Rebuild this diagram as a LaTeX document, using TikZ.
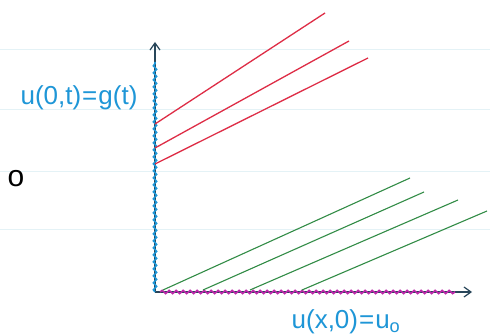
\documentclass[tikz,border=0pt]{standalone}
\usepackage{fontspec}
\setmainfont{Liberation Sans}
\usetikzlibrary{decorations.pathmorphing,arrows.meta}
\definecolor{penred}{RGB}{222,45,70}
\definecolor{pengreen}{RGB}{50,140,70}
\definecolor{penblue}{RGB}{30,150,215}
\definecolor{penmag}{RGB}{190,40,170}
\definecolor{rule}{RGB}{228,242,246}
\definecolor{axisc}{RGB}{40,70,90}
\tikzset{
  redchar/.style={penred, line width=1.3pt},
  greenchar/.style={pengreen, line width=1.1pt},
  axisline/.style={axisc, line width=1.2pt, -{Straight Barb[length=7pt,width=10pt]}},
  wavy/.style={line width=1.6pt, decorate, decoration={snake, amplitude=1.6pt, segment length=7pt}},
  lbl/.style={penblue, font=\fontsize{26}{26}\selectfont, inner sep=0pt},
  ruling/.style={rule, line width=1pt}
}
\begin{document}
\begin{tikzpicture}[x=1pt,y=-1pt]
\useasboundingbox (0,0) rectangle (490,336);
\fill[white] (0,0) rectangle (490,336);
% notebook rulings
\foreach \yy in {50,110,172,230} \draw[ruling] (0,\yy) -- (490,\yy);
% coordinates
\coordinate (O) at (155,292);
\coordinate (ytop) at (155,42);
\coordinate (xend) at (472,292);
% axes
\draw[axisline] (O) -- (ytop);
\draw[axisline] (O) -- (xend);
% wavy boundary data
\coordinate (bw1) at (155,292);
\coordinate (bw2) at (155,62);
\coordinate (mw1) at (160,292);
\coordinate (mw2) at (455,292);
\draw[wavy, penblue] (bw1) -- (bw2);
\draw[wavy, penmag] (mw1) -- (mw2);
% red characteristics
\coordinate (r1a) at (155,124); \coordinate (r1b) at (325,13);
\coordinate (r2a) at (155,148); \coordinate (r2b) at (349,41);
\coordinate (r3a) at (155,164); \coordinate (r3b) at (368,58);
\draw[redchar] (r1a) -- (r1b);
\draw[redchar] (r2a) -- (r2b);
\draw[redchar] (r3a) -- (r3b);
% green characteristics
\coordinate (g1a) at (163,290); \coordinate (g1b) at (410,178);
\coordinate (g2a) at (203,290); \coordinate (g2b) at (424,192);
\coordinate (g3a) at (250,290); \coordinate (g3b) at (458,200);
\coordinate (g4a) at (302,290); \coordinate (g4b) at (487,211);
\draw[greenchar] (g1a) -- (g1b);
\draw[greenchar] (g2a) -- (g2b);
\draw[greenchar] (g3a) -- (g3b);
\draw[greenchar] (g4a) -- (g4b);
% labels
\node[lbl, anchor=center] (lg) at (79,98) {u(0,t)\kern1pt=\kern1pt g(t)};
\node[lbl, anchor=center] (lu) at (346,322) {u(x,0)\kern1pt=\kern1pt u\textsubscript{o}};
\node[black, font=\fontsize{30}{30}\selectfont, inner sep=0pt] (oo) at (16,179) {o};
\end{tikzpicture}
\end{document}
